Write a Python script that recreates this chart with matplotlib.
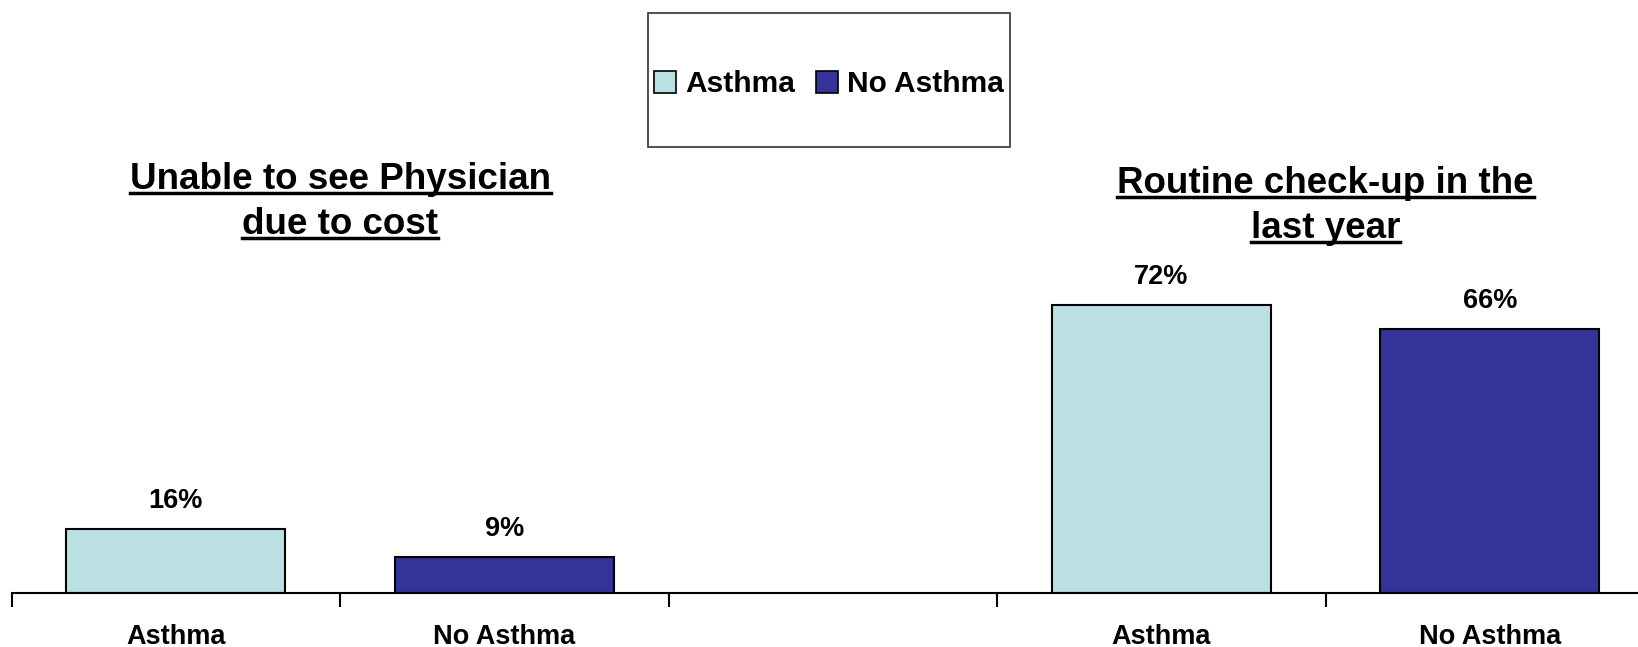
import matplotlib
matplotlib.use("Agg")
import matplotlib.pyplot as plt
from matplotlib.patches import Rectangle, Patch
from matplotlib.lines import Line2D

# data
groups = ["Unable to see Physician\ndue to cost", "Routine check-up in the\nlast year"]
series = ["Asthma", "No Asthma"]
asthma = [16, 72]
no_asthma = [9, 66]
colors = ["#BBE0E3", "#333399"]

font = ["Liberation Sans", "DejaVu Sans"]

fig = plt.figure(figsize=(16.38, 6.47), dpi=100)
ax = fig.add_axes([11.5 / 1638, 54 / 647, 1642.5 / 1638, 400 / 647])

positions = []
labels = []
for g in range(len(groups)):
    for s, vals in enumerate([asthma, no_asthma]):
        x = 3 * g + s
        ax.bar(x, vals[g], width=0.667, color=colors[s], edgecolor="black", linewidth=1.5)
        ax.annotate("%d%%" % vals[g], (x, vals[g]), xytext=(0, 20), textcoords="offset points",
                    ha="center", va="center", fontsize=19.5, fontweight="bold", family=font)
        positions.append(x)
        labels.append(series[s])

ax.set_xlim(-0.5, 4.5)
ax.set_ylim(0, 100)
for sp in ["top", "right", "left"]:
    ax.spines[sp].set_visible(False)
ax.spines["bottom"].set_linewidth(1.5)
ax.set_yticks([])
ax.set_xticks([i - 0.5 for i in range(6)])
ax.set_xticklabels([])
ax.tick_params(axis="x", which="major", length=10, width=1.5, direction="out")
ax.set_xticks(positions, minor=True)
ax.set_xticklabels(labels, minor=True, fontsize=19.5, fontweight="bold", family=font)
ax.tick_params(axis="x", which="minor", length=0, pad=22)

# group titles (underlined)
title_texts = []
title_y = [103.3, 102.3]
for g, title in enumerate(groups):
    for k, line in enumerate(title.split("\n")):
        t = ax.text(3 * g + 0.5, title_y[g] - k * 11.2, line, ha="center", va="center",
                    fontsize=26.5, fontweight="bold", family=font, clip_on=False)
        title_texts.append(t)

# legend with separate frame
fig.patches.append(Rectangle((648 / 1638, 1 - 147 / 647), 362 / 1638, 134.5 / 647,
                             transform=fig.transFigure, fill=False, edgecolor="#333333",
                             linewidth=1.2))
handles = [Patch(facecolor=c, edgecolor="black", linewidth=1.2) for c in colors]
fig.legend(handles, series, loc="center", bbox_to_anchor=(829 / 1638, 1 - 84 / 647), ncol=2,
           frameon=False, handlelength=0.75, handleheight=0.75, handletextpad=0.3,
           columnspacing=0.7, prop={"family": font, "weight": "bold", "size": 21.5})

fig.canvas.draw()
renderer = fig.canvas.get_renderer()
inv = fig.transFigure.inverted()
for t in title_texts:
    bb = t.get_window_extent(renderer)
    (x0, y0) = inv.transform((bb.x0, bb.y0 + 4))
    (x1, _) = inv.transform((bb.x1, bb.y0 + 4))
    fig.lines.append(Line2D([x0, x1], [y0, y0], transform=fig.transFigure, color="black",
                            linewidth=2.5))

fig.savefig("out.png", dpi=100)
